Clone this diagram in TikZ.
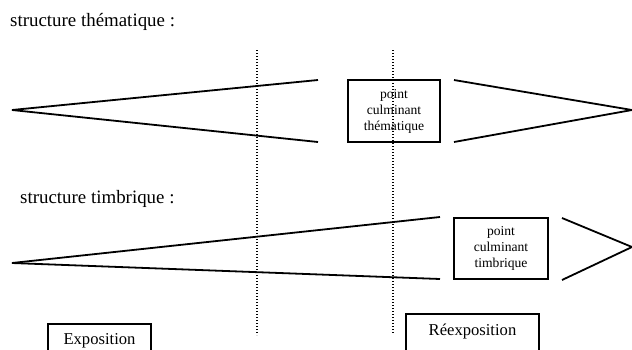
\documentclass[tikz,border=0pt]{standalone}
\usepackage{fontspec}
\setmainfont{Liberation Serif}
\usepackage{tikz}
\usetikzlibrary{positioning}
\tikzstyle{dots} = [dash pattern=on 1.3pt off 1.7pt, line width=1.4pt]
\tikzstyle{wedge} = [line width=1.8pt]
\tikzstyle{culmen} = [draw=black, line width=1.8pt, inner sep=0pt, align=center, font=\fontsize{13.6}{16}\selectfont]
\tikzstyle{section} = [draw=black, line width=1.8pt, inner xsep=0pt, inner ysep=4pt, font=\fontsize{16.6}{20}\selectfont]

\begin{document}
\begin{tikzpicture}[x=1pt, y=-1pt]
					\clip (0, 0) rectangle (632, 349);

					\node (ThemLabel) [anchor=base west, inner sep=0pt, font=\fontsize{18.9}{22}\selectfont] at (10, 26) {structure thématique :};
					\node (TimbLabel) [anchor=base west, inner sep=0pt, font=\fontsize{18.9}{22}\selectfont] at (20, 203) {structure timbrique :};

					\node (ThemPeak) [culmen, minimum width=92pt, minimum height=62pt] at (394, 111) {point\\culminant\\thématique};
					\node (TimbPeak) [culmen, minimum width=94pt, minimum height=61pt] at (501, 248.5) {point\\culminant\\timbrique};

					\coordinate (ThemStart) at (12, 110);
					\coordinate (ThemUp) at (318, 80);
					\coordinate (ThemDown) at (318, 142);
					\draw [wedge] (ThemStart) -- (ThemUp);
					\draw [wedge] (ThemStart) -- (ThemDown);

					\coordinate (ThemEnd) at (632, 110);
					\coordinate (ThemBackUp) at (454, 80);
					\coordinate (ThemBackDown) at (454, 142);
					\draw [wedge] (ThemBackUp) -- (ThemEnd);
					\draw [wedge] (ThemBackDown) -- (ThemEnd);

					\coordinate (TimbStart) at (12, 263);
					\coordinate (TimbUp) at (440, 217);
					\coordinate (TimbDown) at (440, 279);
					\draw [wedge] (TimbStart) -- (TimbUp);
					\draw [wedge] (TimbStart) -- (TimbDown);

					\coordinate (TimbEnd) at (632, 247);
					\coordinate (TimbBackUp) at (562, 218);
					\coordinate (TimbBackDown) at (562, 280);
					\draw [wedge] (TimbBackUp) -- (TimbEnd);
					\draw [wedge] (TimbBackDown) -- (TimbEnd);

					\node (Expo) [section, anchor=north, minimum width=103pt, text height=17pt, text depth=24pt] at (99.5, 323) {Exposition};
					\node (Reexpo) [section, anchor=north, minimum width=133pt, text height=18pt, text depth=24pt] at (472.5, 313) {Réexposition};

					\coordinate (CutOneTop) at (257, 50);
					\coordinate (CutOneBot) at (257, 335);
					\coordinate (CutTwoTop) at (393, 50);
					\coordinate (CutTwoBot) at (393, 333);
					\draw [dots] (CutOneTop) -- (CutOneBot);
					\draw [dots] (CutTwoTop) -- (CutTwoBot);

				\end{tikzpicture}
\end{document}
